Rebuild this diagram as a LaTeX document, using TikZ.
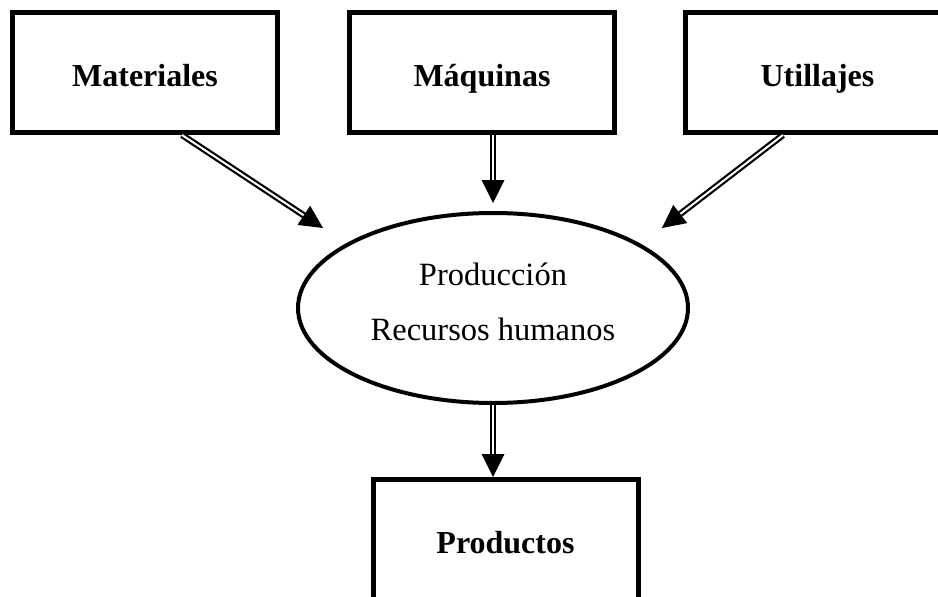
\documentclass[tikz,border=0pt]{standalone}
\usepackage{fontspec}
\setmainfont{Liberation Serif}
\usetikzlibrary{arrows.meta,shapes.geometric}
\tikzset{
  box/.style={draw, line width=5pt, minimum width=265pt, minimum height=120pt,
    inner sep=0pt, font=\bfseries\fontsize{32}{36}\selectfont,
    text height=27pt, text depth=0pt},
  oval/.style={draw, ellipse, line width=4pt, minimum width=390pt,
    minimum height=190pt, inner sep=0pt},
  flow/.style={double, double distance=2pt, line width=2.2pt,
    -{Triangle[length=23pt,width=23pt,line width=0pt]}}
}
\begin{document}
\begin{tikzpicture}[x=1pt,y=-1pt]
  \useasboundingbox (0,0) rectangle (938,597);
  \clip (0,0) rectangle (938,597);
  % inputs
  \node[box] (mat) at (145,72.5) {Materiales};
  \node[box] (maq) at (482,72.5) {Máquinas};
  \node[box] (uti) at (817.5,72.5) {Utillajes};
  % process
  \node[oval] (prod) at (493,308) {};
  \node[font=\fontsize{32.5}{55}\selectfont, align=center, inner sep=0pt]
    (prodtxt) at ([yshift=6pt]prod.center) {Producción\\Recursos humanos};
  % output
  \node[box] (out) at (505.5,539.5) {Productos};
  % arrow ends
  \coordinate (tipmat) at (323,228);
  \coordinate (tipmaq) at (493,203);
  \coordinate (tiputi) at (662,228);
  \draw[flow] ([xshift=37pt]mat.south) -- (tipmat);
  \draw[flow] ([xshift=11pt]maq.south) -- (tipmaq);
  \draw[flow] ([xshift=-34.5pt]uti.south) -- (tiputi);
  \draw[flow] (prod.south) -- (prod.south |- out.north);
\end{tikzpicture}
\end{document}
